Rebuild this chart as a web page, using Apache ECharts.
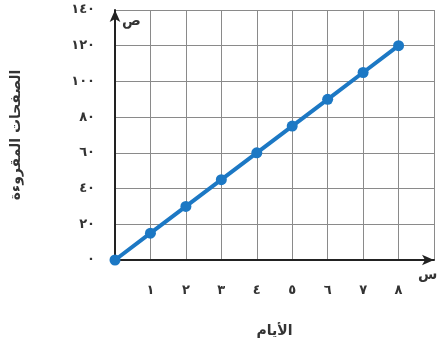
<html>
<head>
  <meta charset='utf-8' />
  <script src="https://cdn.jsdelivr.net/npm/echarts@6/dist/echarts.min.js"></script>
</head>
<body style="margin: 0; background: #fff">
  <div id="main" style="width: 438px; height: 345px"></div>
  <script type="text/javascript">
    var days = [0, 1, 2, 3, 4, 5, 6, 7, 8];
    var pages = [0, 15, 30, 45, 60, 75, 90, 105, 120];
    var arDigits = ['٠', '١', '٢', '٣', '٤', '٥', '٦', '٧', '٨', '٩'];
    var xTitle = 'الأيام';
    var yTitle = 'الصفحات المقروءة';

    function toArabic(n) {
        return String(n).split('').map(function (d) { return arDigits[+d]; }).join('');
    }

    var chart = echarts.init(document.getElementById('main'));
    var font = 'DejaVu Sans';
    chart.setOption({
        animation: false,
        grid: {left: 115, top: 10, right: 4, bottom: 85},
        xAxis: {
            type: 'value', min: 0, max: 9, interval: 1,
            name: xTitle, nameLocation: 'middle', nameGap: 64,
            nameTextStyle: {fontFamily: font, fontSize: 14, fontWeight: 'bold', color: '#333'},
            axisLine: {lineStyle: {color: '#222', width: 2}, symbol: ['none', 'arrow'], symbolSize: [8, 12]},
            axisTick: {show: false},
            splitLine: {lineStyle: {color: '#8a8a8a', width: 1}},
            axisLabel: {
                margin: 24, fontFamily: font, fontSize: 13, fontWeight: 'bold', color: '#333',
                formatter: function (v) { return (v === 0 || v === 9) ? '' : toArabic(v); }
            }
        },
        yAxis: {
            type: 'value', min: 0, max: 140, interval: 20,
            name: yTitle, nameLocation: 'middle', nameGap: 92, nameRotate: 90,
            nameTextStyle: {fontFamily: font, fontSize: 14, fontWeight: 'bold', color: '#333'},
            axisLine: {show: true, lineStyle: {color: '#222', width: 2}, symbol: ['none', 'arrow'], symbolSize: [8, 12]},
            axisTick: {show: false},
            splitLine: {lineStyle: {color: '#8a8a8a', width: 1}},
            axisLabel: {
                margin: 20, fontFamily: font, fontSize: 13, fontWeight: 'bold', color: '#333',
                formatter: function (v) { return toArabic(v); }
            }
        },
        graphic: [
            {type: 'text', left: 122, top: 14, style: {text: 'ص', font: 'bold 14px DejaVu Sans', fill: '#333'}},
            {type: 'text', left: 418, top: 268, style: {text: 'س', font: 'bold 14px DejaVu Sans', fill: '#333'}}
        ],
        series: [{
            type: 'line',
            data: days.map(function (d, i) { return [d, pages[i]]; }),
            symbol: 'circle', symbolSize: 11,
            lineStyle: {color: '#1c78c4', width: 4},
            itemStyle: {color: '#1c78c4'}
        }]
    });
  </script>
</body>
</html>
